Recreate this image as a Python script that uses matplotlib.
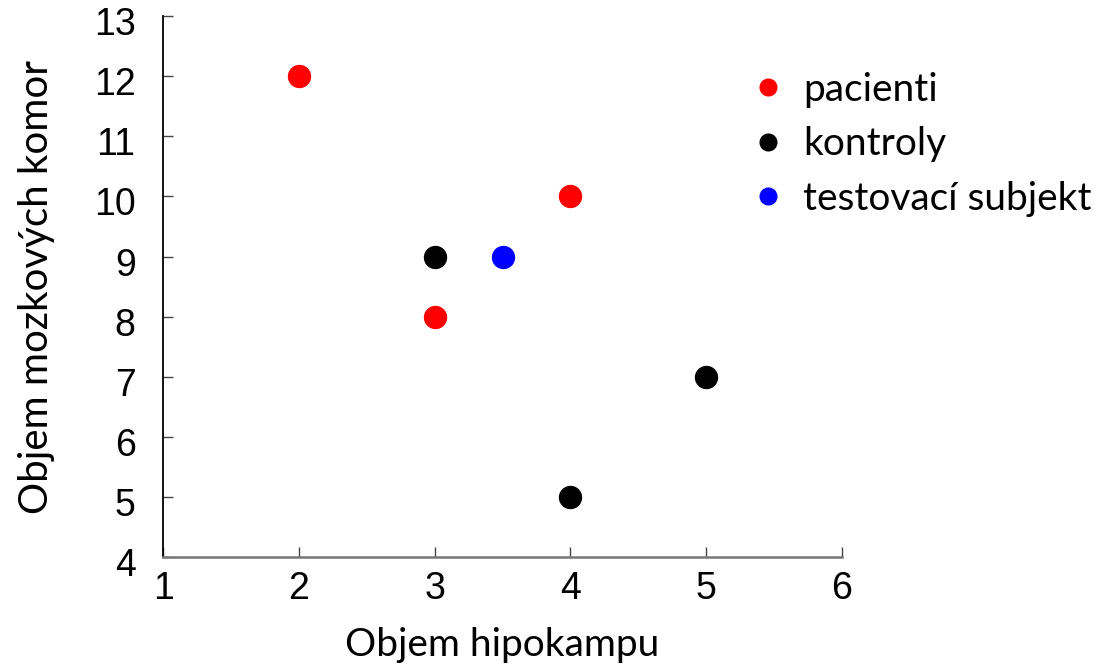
import matplotlib
matplotlib.use("Agg")
import matplotlib.pyplot as plt
from matplotlib.transforms import ScaledTranslation

# data
pacienti_x = [2, 3, 4]
pacienti_y = [12, 8, 10]
kontroly_x = [3, 4, 5]
kontroly_y = [9, 5, 7]
test_x = [3.5]
test_y = [9]

xticks = [1, 2, 3, 4, 5, 6]
yticks = [4, 5, 6, 7, 8, 9, 10, 11, 12, 13]

fig = plt.figure(figsize=(11.08, 6.64), dpi=100)
ax = fig.add_axes([0.1474, 0.1607, 0.6123, 0.8152])

ax.scatter(pacienti_x, pacienti_y, s=250, color='#ff0000', zorder=3, clip_on=False)
ax.scatter(kontroly_x, kontroly_y, s=250, color='black', zorder=3, clip_on=False)
ax.scatter(test_x, test_y, s=250, color='#0000ff', zorder=3, clip_on=False)

ax.set_xlim(1, 6)
ax.set_ylim(4, 13)
ax.set_xticks(xticks)
ax.set_yticks(yticks)
ax.spines['top'].set_visible(False)
ax.spines['right'].set_visible(False)
ax.spines['left'].set_color('black')
ax.spines['bottom'].set_color('#777777')
ax.spines['left'].set_linewidth(1.3)
ax.spines['bottom'].set_linewidth(1.8)
ax.tick_params(direction='in', length=7, width=1, colors='#444444',
               labelcolor='black', labelsize=27)
ax.tick_params(axis='x', pad=10)
ax.tick_params(axis='y', pad=20)
shift = ScaledTranslation(0, -5 / 100, fig.dpi_scale_trans)
for lab in ax.get_yticklabels():
    lab.set_transform(lab.get_transform() + shift)
for lab in ax.get_xticklabels() + ax.get_yticklabels():
    lab.set_fontfamily('Liberation Sans')

ax.set_xlabel("Objem hipokampu", fontsize=28, family='Lato', labelpad=14)
ax.set_ylabel("Objem mozkových komor", fontsize=29, family='Lato', labelpad=28)

# legend
h1 = plt.Line2D([], [], marker='o', ls='', color='#ff0000', markersize=12)
h2 = plt.Line2D([], [], marker='o', ls='', color='black', markersize=12)
h3 = plt.Line2D([], [], marker='o', ls='', color='#0000ff', markersize=12)
fig.legend([h1, h2, h3], ["pacienti", "kontroly", "testovací subjekt"],
           loc='upper left', bbox_to_anchor=(0.662, 0.915), frameon=False,
           prop={'family': 'Lato', 'size': 28}, handletextpad=0.4,
           labelspacing=0.47, handlelength=1.0, borderaxespad=0)

fig.savefig("out.png", dpi=100)
